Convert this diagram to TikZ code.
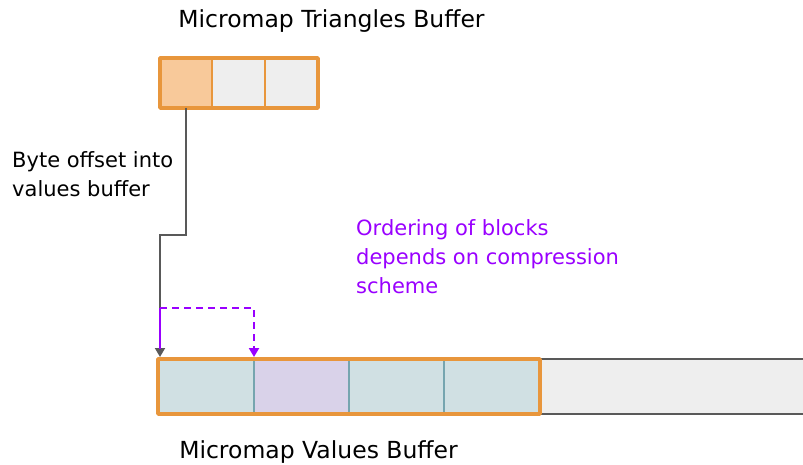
\documentclass[tikz,border=0pt]{standalone}
\usepackage{fontspec}
\setmainfont{DejaVu Sans}
\usetikzlibrary{arrows.meta}
\definecolor{frameorange}{HTML}{E8963C}
\definecolor{cellorange}{HTML}{F8C99A}
\definecolor{cellgray}{HTML}{EEEEEE}
\definecolor{cellblue}{HTML}{D0E0E3}
\definecolor{celllav}{HTML}{D9D2E9}
\definecolor{divteal}{HTML}{76A5AF}
\definecolor{linegray}{HTML}{595959}
\definecolor{violet}{HTML}{9900FF}
\tikzset{
  lbl/.style={font=\fontsize{21}{29}\selectfont, inner sep=0pt},
  title/.style={font=\fontsize{23.5}{29}\selectfont, inner sep=0pt},
  cell/.style={draw=frameorange, line width=2.5pt},
  vcell/.style={draw=divteal, line width=1.5pt},
  frame/.style={draw=frameorange, line width=3.5pt, line join=round},
  tip/.style={-{Triangle[length=9pt,width=10pt]}},
  conn/.style={draw=linegray, line width=1.8pt, tip},
  order/.style={draw=violet, line width=2pt},
}
\begin{document}
\begin{tikzpicture}[x=1pt,y=-1pt]
\useasboundingbox (0,0) rectangle (803,465);
% triangles buffer
\fill[cellorange] (160,58) rectangle (212,108);
\fill[cellgray] (212,58) rectangle (318,108);
\draw[cell] (212,58) -- (212,108) (265,58) -- (265,108);
\draw[frame] (160,58) rectangle (318,108);
\coordinate (tri) at (186,108);
\node[title, anchor=base] (tritxt) at (331.5,27.5) {Micromap Triangles Buffer};
% values buffer
\fill[cellgray] (158,359) rectangle (810,414);
\draw[linegray, line width=1.8pt] (540,359) -- (810,359) (540,414) -- (810,414);
\fill[cellblue] (158,359) rectangle (254,414);
\fill[celllav] (254,359) rectangle (349,414);
\fill[cellblue] (349,359) rectangle (540,414);
\draw[vcell] (158,359) -- (540,359) (254,359) -- (254,414) (349,359) -- (349,414) (444,359) -- (444,414);
\draw[frame] (158,359) rectangle (540,414);
\coordinate (blk0) at (160,357);
\coordinate (blk1) at (254,357);
\node[title, anchor=base] (valtxt) at (318.5,458) {Micromap Values Buffer};
% offset connector
\draw[conn] (tri) |- (160,235) -- (blk0);
\node[lbl, anchor=base west, align=left] (offtxt) at (12,197) {Byte offset into\\values buffer};
% block ordering
\draw[order] (160,308) -- (160,349);
\draw[order, dash pattern=on 7pt off 5pt, tip] (160,308) -| (blk1);
\node[lbl, anchor=base west, align=left, text=violet] (ordtxt) at (356,293) {Ordering of blocks\\depends on compression\\scheme};
\end{tikzpicture}
\end{document}
